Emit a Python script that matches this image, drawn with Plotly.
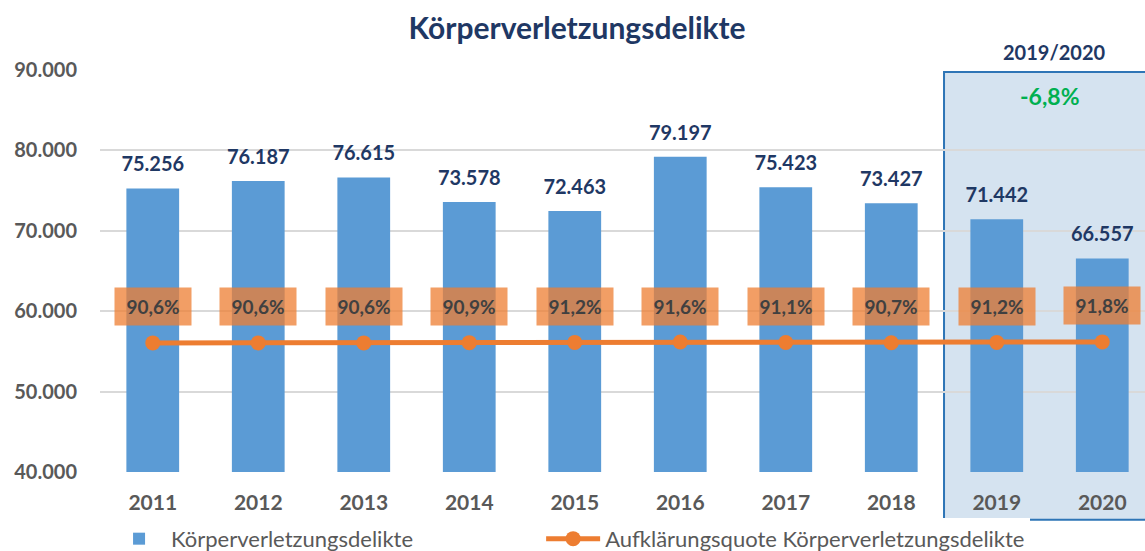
import plotly.graph_objects as go

years = ["2011", "2012", "2013", "2014", "2015", "2016", "2017", "2018", "2019", "2020"]
delikte = [75256, 76187, 76615, 73578, 72463, 79197, 75423, 73427, 71442, 66557]
quote = [90.6, 90.6, 90.6, 90.9, 91.2, 91.6, 91.1, 90.7, 91.2, 91.8]
delikte_labels = ["75.256", "76.187", "76.615", "73.578", "72.463", "79.197", "75.423", "73.427", "71.442", "66.557"]
quote_labels = ["90,6%", "90,6%", "90,6%", "90,9%", "91,2%", "91,6%", "91,1%", "90,7%", "91,2%", "91,8%"]

FONT = "Lato"
NAVY = "#1F3864"
GREY = "#595959"
ORANGE = "#ED7D31"
BLUE = "#5B9BD5"

fig = go.Figure()

fig.add_trace(go.Bar(
    x=years, y=delikte, name="Körperverletzungsdelikte",
    marker=dict(color=BLUE, line=dict(width=0)), width=0.5, legend="legend",
))

fig.add_trace(go.Scatter(
    x=years, y=delikte, mode="markers+text", text=delikte_labels,
    textposition="top center", marker=dict(size=18, opacity=0),
    textfont=dict(family=FONT, size=20, color=NAVY, weight="bold"),
    showlegend=False, hoverinfo="skip", cliponaxis=False,
))

fig.add_trace(go.Scatter(
    x=years, y=quote, name="Aufklärungsquote Körperverletzungsdelikte",
    mode="lines+markers", yaxis="y2", legend="legend2",
    line=dict(color=ORANGE, width=5),
    marker=dict(color=ORANGE, size=15),
))

# category index positions for annotations (numeric-looking category names)
for i, (q, lab) in enumerate(zip(quote, quote_labels)):
    fig.add_annotation(
        x=i, xref="x", y=q, yref="y2", text=f"<b>{lab}</b>", showarrow=False,
        yanchor="middle", yshift=36, width=70, height=31, borderpad=3,
        bgcolor="rgba(237,125,49,0.75)",
        font=dict(family=FONT, size=19, color="#404040"),
    )

# highlight box 2019/2020
fig.add_shape(
    type="rect", xref="x", yref="paper", x0=7.5, x1=9.8, y0=-0.119, y1=0.995,
    fillcolor="#D5E3F0", line=dict(color="#2E75B6", width=2),
    layer="below",
)

fig.add_annotation(
    x=8.55, xref="x", y=1.045, yref="paper", text="<b>2019/2020</b>", showarrow=False,
    font=dict(family=FONT, size=20, color=NAVY), yanchor="middle",
)
fig.add_annotation(
    x=8.5, xref="x", y=0.935, yref="paper", text="<b>-6,8%</b>", showarrow=False,
    font=dict(family=FONT, size=23, color="#00B050"), yanchor="middle",
)

legend_common = dict(orientation="h", xanchor="left", yref="container", y=0.022,
                     yanchor="middle", xref="container", itemwidth=54,
                     font=dict(family=FONT, size=22, color=GREY))

fig.update_layout(
    width=1145, height=551,
    margin=dict(l=100, r=0, t=70, b=79, autoexpand=False),
    paper_bgcolor="white", plot_bgcolor="rgba(0,0,0,0)",
    separators=",.",
    title=dict(text="<b>Körperverletzungsdelikte</b>", x=0.504, xanchor="center",
               y=0.949, yanchor="middle", automargin=False,
               font=dict(family=FONT, size=30, color=NAVY)),
    xaxis=dict(type="category", range=[-0.5, 9.405], showgrid=False, showline=False,
               zeroline=False,
               tickfont=dict(family=FONT, size=21, color=GREY, weight="bold"),
               ticks="", ticklabelstandoff=16, automargin=False),
    yaxis=dict(range=[40000, 90000], dtick=10000, tickformat=",d",
               showgrid=True, gridcolor="#D9D9D9", gridwidth=2, zeroline=False,
               tickfont=dict(family=FONT, size=20, color=GREY, weight="bold"),
               ticklabelstandoff=22, showline=False, automargin=False),
    yaxis2=dict(range=[-70, 430], overlaying="y", side="right", visible=True,
                showticklabels=False, showgrid=False, showline=False, zeroline=False,
                ticks="", automargin=False),
    legend=dict(x=0.0935, **legend_common),
    legend2=dict(x=0.4726, **legend_common),
)

fig.write_html("out.html", post_script="document.body.style.margin='0';",
               config={"displayModeBar": False})
